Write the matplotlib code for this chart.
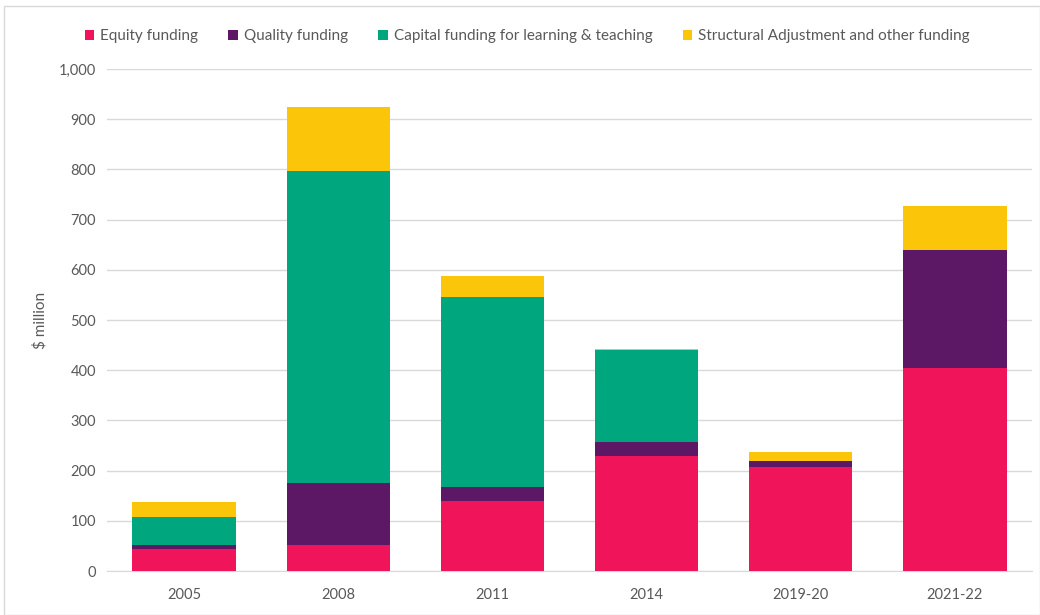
import matplotlib
matplotlib.use("Agg")
import matplotlib.pyplot as plt
import numpy as np
from matplotlib.patches import Rectangle

categories = ["2005", "2008", "2011", "2014", "2019-20", "2021-22"]
equity = [44, 52, 140, 229, 208, 404]
quality = [7, 123, 27, 28, 11, 235]
capital = [57, 622, 379, 184, 0, 0]
structural = [29, 127, 42, 1, 19, 88]
series_names = ["Equity funding", "Quality funding",
                "Capital funding for learning & teaching",
                "Structural Adjustment and other funding"]
colors = ["#F0145A", "#5C1864", "#00A67D", "#FBC60A"]

plt.rcParams['font.family'] = ['Lato', 'DejaVu Sans']

fig = plt.figure(figsize=(10.4, 6.15), dpi=100)
ax = fig.add_axes([0.1029, 0.0715, 0.8895, 0.8163])

x = np.arange(len(categories))
bottom = np.zeros(len(categories))
for vals, name, c in zip([equity, quality, capital, structural], series_names, colors):
    ax.bar(x, vals, width=0.67, bottom=bottom, color=c, label=name, zorder=3)
    bottom += np.array(vals)

ax.set_ylim(0, 1000)
ax.set_xlim(-0.5, len(categories) - 0.5)
ax.set_yticks(np.arange(0, 1001, 100))
ax.set_yticklabels([f"{v:,}" for v in range(0, 1001, 100)])
ax.set_xticks(x)
ax.set_xticklabels(categories)
ax.grid(axis='y', color='#D9D9D9', linewidth=1, zorder=0)
for s in ['top', 'right', 'left']:
    ax.spines[s].set_visible(False)
ax.spines['bottom'].set_color('#D9D9D9')
ax.tick_params(axis='both', length=0, colors='#595959', labelsize=10.5)
ax.tick_params(axis='x', pad=12)
ax.tick_params(axis='y', pad=8)
ax.set_ylabel("$ million", color='#595959', fontsize=11, labelpad=8)

handles, labels = ax.get_legend_handles_labels()
leg = fig.legend(handles, labels, loc='center', bbox_to_anchor=(0.507, 0.941), ncol=4,
                 frameon=False, fontsize=11, handlelength=0.6, handleheight=0.6,
                 handletextpad=0.4, columnspacing=2.0, labelcolor='#595959')

fig.patches.append(Rectangle((0.004, 0.0), 0.996, 0.99, transform=fig.transFigure,
                             fill=False, edgecolor='#D9D9D9', linewidth=1))

fig.savefig("out.png", dpi=100)
